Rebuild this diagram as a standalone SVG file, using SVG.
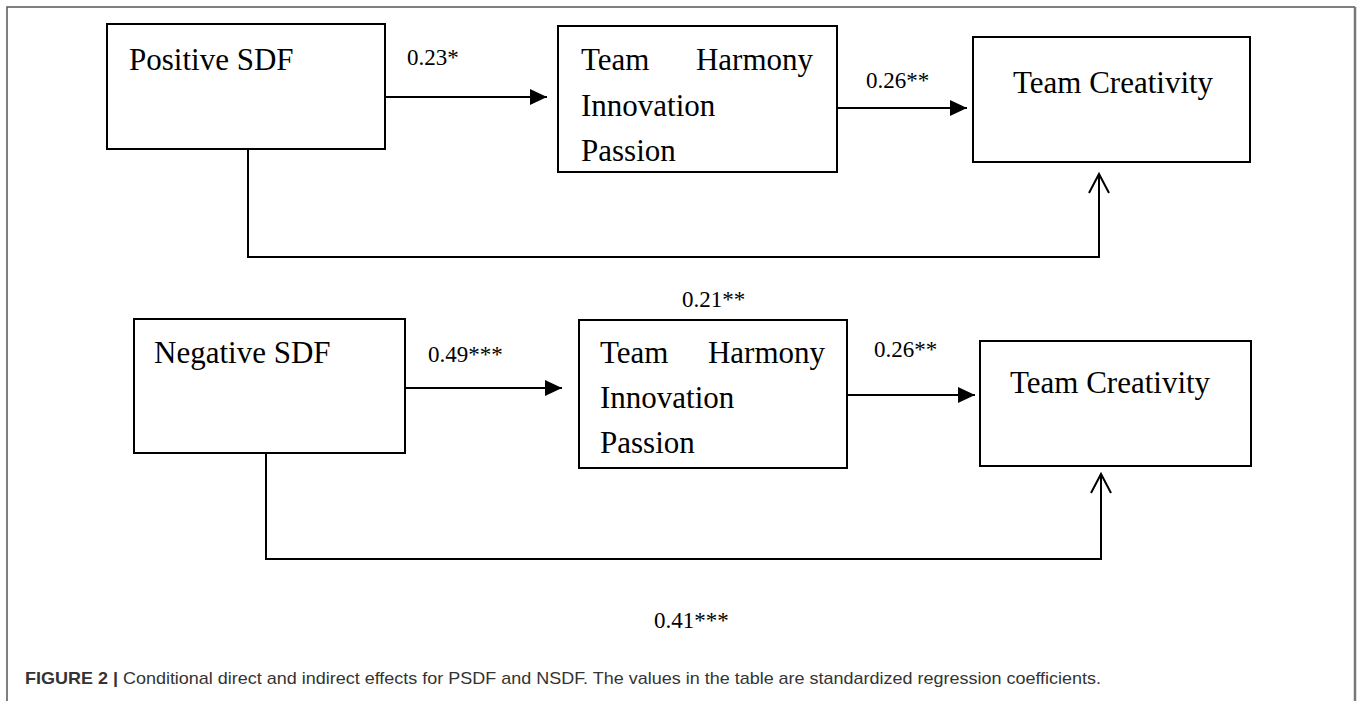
<svg xmlns="http://www.w3.org/2000/svg" width="1357" height="701" viewBox="0 0 1357 701">
<defs>
<style>
.box{fill:#fff;stroke:#000;stroke-width:2}
.t{font-family:"Liberation Serif","Times New Roman",serif;font-size:31px;fill:#000}
.l{font-family:"Liberation Serif","Times New Roman",serif;font-size:23px;fill:#000}
.c{fill:none;stroke:#000;stroke-width:2}
.cap{font-family:"Liberation Sans",Arial,sans-serif;font-size:17px;fill:#333}
</style>
<marker id="fa" markerUnits="userSpaceOnUse" markerWidth="18" markerHeight="16" refX="17" refY="8" orient="auto">
<path d="M0,0 L17,8 L0,16 Z" fill="#000"/>
</marker>
<marker id="oa" markerUnits="userSpaceOnUse" markerWidth="24" markerHeight="24" refX="20" refY="12" orient="auto">
<path d="M1,2 L20,12 L1,22" fill="none" stroke="#000" stroke-width="2"/>
</marker>
</defs>
<rect width="1357" height="701" fill="#fff"/>
<g id="frame">
<path d="M7,701 V7 H1355" fill="none" stroke="#555" stroke-width="1.5"/>
<line x1="1355" y1="7" x2="1355" y2="701" stroke="#777" stroke-width="2.5"/>
</g>
<g id="connectors">
<line class="c" x1="385" y1="97" x2="547" y2="97" marker-end="url(#fa)"/>
<line class="c" x1="837" y1="108" x2="967" y2="108" marker-end="url(#fa)"/>
<path class="c" d="M248,149 V257 H1099 V174" marker-end="url(#oa)"/>
<line class="c" x1="405" y1="388" x2="562" y2="388" marker-end="url(#fa)"/>
<line class="c" x1="847" y1="395" x2="975" y2="395" marker-end="url(#fa)"/>
<path class="c" d="M266,453 V559 H1101 V474" marker-end="url(#oa)"/>
</g>
<g id="labels">
<text class="l" x="407" y="65">0.23*</text>
<text class="l" x="866" y="88">0.26**</text>
<text class="l" x="682" y="307">0.21**</text>
<text class="l" x="428" y="362">0.49***</text>
<text class="l" x="874" y="357">0.26**</text>
<text class="l" x="654" y="628">0.41***</text>
</g>
<g id="psdf">
<rect class="box" x="107" y="24" width="278" height="125"/>
<text class="t" x="129" y="70">Positive SDF</text>
</g>
<g id="mediator1">
<rect class="box" x="558" y="26" width="279" height="146"/>
<text class="t" x="581" y="70">Team</text>
<text class="t" x="813" y="70" text-anchor="end">Harmony</text>
<text class="t" x="581" y="116">Innovation</text>
<text class="t" x="581" y="161">Passion</text>
</g>
<g id="creativity1">
<rect class="box" x="973" y="37" width="277" height="125"/>
<text class="t" x="1013" y="93">Team Creativity</text>
</g>
<g id="nsdf">
<rect class="box" x="134" y="319" width="271" height="134"/>
<text class="t" x="154" y="363">Negative SDF</text>
</g>
<g id="mediator2">
<rect class="box" x="579" y="320" width="268" height="148"/>
<text class="t" x="600" y="363">Team</text>
<text class="t" x="825" y="363" text-anchor="end">Harmony</text>
<text class="t" x="600" y="408">Innovation</text>
<text class="t" x="600" y="453">Passion</text>
</g>
<g id="creativity2">
<rect class="box" x="980" y="341" width="271" height="125"/>
<text class="t" x="1010" y="393">Team Creativity</text>
</g>
<g id="caption">
<text class="cap" x="25" y="684" textLength="1076" lengthAdjust="spacingAndGlyphs"><tspan font-weight="bold">FIGURE 2 |</tspan> Conditional direct and indirect effects for PSDF and NSDF. The values in the table are standardized regression coefficients.</text>
</g>
</svg>
